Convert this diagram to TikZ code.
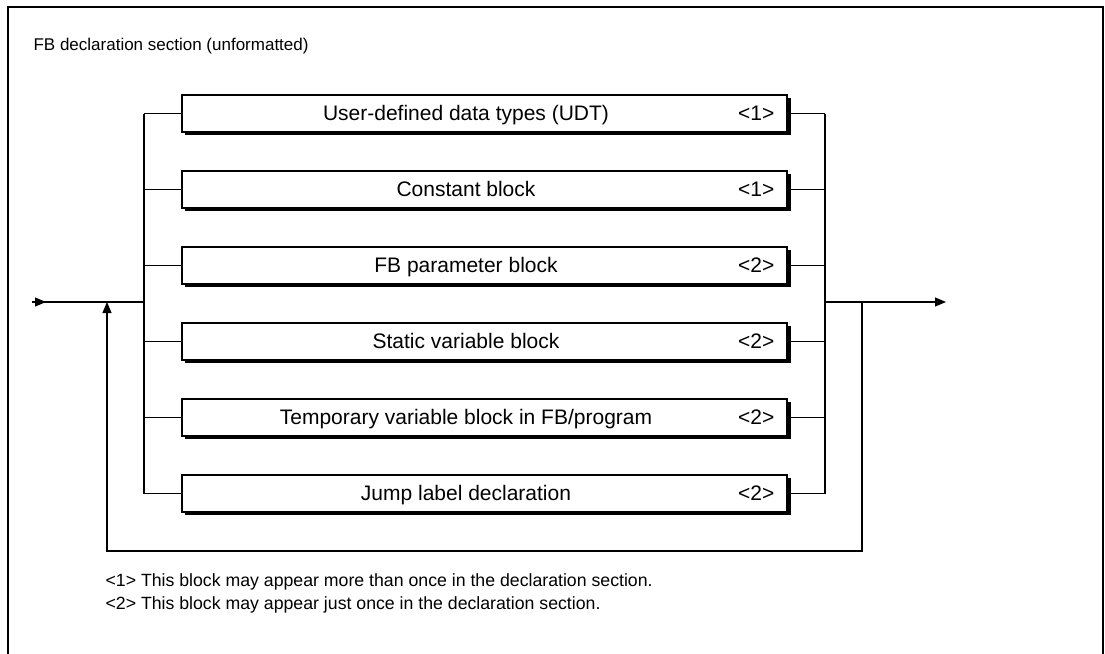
\documentclass[tikz,border=0pt]{standalone}
\usepackage{fontspec}
\setmainfont{Liberation Sans}
\usetikzlibrary{arrows.meta}
\begin{document}
\begin{tikzpicture}[x=1pt,y=-1pt,line width=1.2pt,
  every node/.style={font=\fontsize{17}{20}\selectfont},
  note/.style={anchor=west,inner sep=0pt,font=\fontsize{17.7}{21}\selectfont},
  blk/.style={draw,fill=white,minimum width=605pt,minimum height=37pt,inner sep=0pt},
  lbl/.style={font=\fontsize{21}{24}\selectfont,inner sep=0pt,text height=15pt,text depth=4pt},
  tag/.style={lbl,anchor=east},
  arr/.style={-{Triangle[length=11pt,width=9pt]}}]
\useasboundingbox (0,0) rectangle (1105,653);
\draw (8,660) -- (8,7) -- (1103,7) -- (1103,660);
\node[anchor=west,inner sep=0pt] (title) at (33,46) {FB declaration section (unformatted)};
\foreach \i/\t/\n in {1/{User-defined data types (UDT)}/<1>,
                      2/{Constant block}/<1>,
                      3/{FB parameter block}/<2>,
                      4/{Static variable block}/<2>,
                      5/{Temporary variable block in FB/program}/<2>,
                      6/{Jump label declaration}/<2>}{
  \pgfmathsetmacro{\yy}{113.5+76*(\i-1)}
  \fill (184.5,\yy-16) rectangle (790.5,\yy+21.5);
  \node[blk] (b\i) at (484.5,\yy) {};
  \node[lbl] (t\i) at (466,\yy+1.5) {\t};
  \node[tag] (n\i) at (775,\yy+1.5) {\n};
  \coordinate (L\i) at (144,\yy);
  \coordinate (R\i) at (825,\yy);
  \draw (L\i) -- (b\i.west);
  \draw (b\i.east) -- (R\i);
}
\draw (L1) -- (L6);
\draw (R1) -- (R6);
\coordinate (in) at (32,302);
\coordinate (inT) at (46,302);
\coordinate (Lm) at (144,302);
\coordinate (Rm) at (825,302);
\coordinate (out) at (946,302);
\coordinate (lj) at (107,302);
\coordinate (rj) at (862,302);
\coordinate (bl) at (107,551);
\coordinate (br) at (862,551);
\draw (in) -- (Lm);
\draw[arr] (in) -- (inT);
\draw[arr] (Rm) -- (out);
\draw[arr] (rj) -- (br) -- (bl) -- (lj);
\node[note] (f1) at (105,582) {<1> This block may appear more than once in the declaration section.};
\node[note] (f2) at (105,605) {<2> This block may appear just once in the declaration section.};
\end{tikzpicture}
\end{document}
